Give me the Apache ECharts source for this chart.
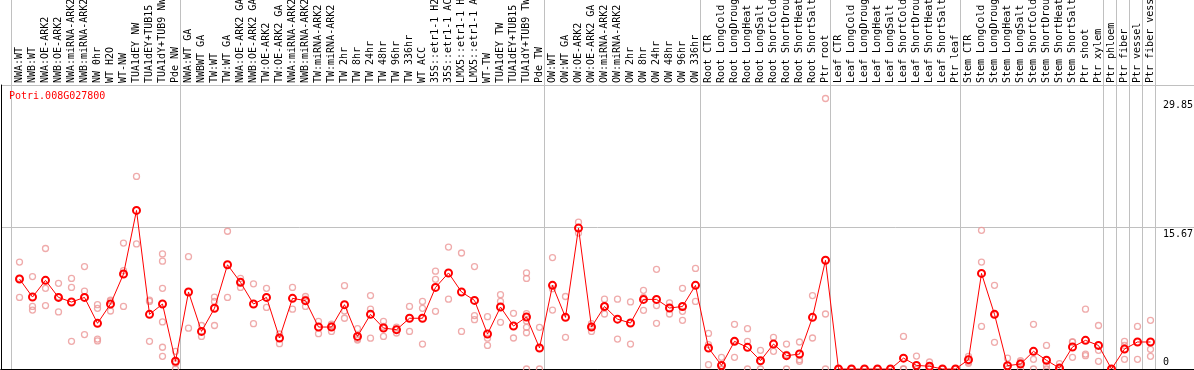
<!DOCTYPE html>
<html><head><meta charset="utf-8">
<script src="https://cdn.jsdelivr.net/npm/echarts@6/dist/echarts.min.js"></script>
<style>html,body{margin:0;padding:0;background:#fff}#c{width:1194px;height:370px}</style>
</head><body><div id="c"></div>
<script>
const geneTitle = 'Potri.008G027800';
const categories = [
 'NWA:WT','NWB:WT','NWA:OE-ARK2','NWB:OE-ARK2','NWA:miRNA-ARK2','NWB:miRNA-ARK2','NW 0hr','WT H2O','WT-NW','TUA1dEY NW','TUA1dEY+TUB15 NW','TUA1dY+TUB9 NW','Pde NW',
 'NWA:WT GA','NWBWT GA','TW:WT','TW:WT GA','NWA:OE-ARK2 GA','NWB:OE-ARK2 GA','TW:OE-ARK2','TW:OE-ARK2 GA','NWA:miRNA-ARK2 GA','NWB:miRNA-ARK2 GA','TW:miRNA-ARK2','TW:miRNA-ARK2 GA',
 'TW 2hr','TW 8hr','TW 24hr','TW 48hr','TW 96hr','TW 336hr','WT ACC','35S::etr1-1 H2O','35S::etr1-1 ACC','LMX5::etr1-1 H2O','LMX5::etr1-1 ACC','WT-TW','TUA1dEY TW','TUA1dEY+TUB15 TW','TUA1dY+TUB9 TW','Pde TW',
 'OW:WT','OW:WT GA','OW:OE-ARK2','OW:OE-ARK2 GA','OW:miRNA-ARK2','OW:miRNA-ARK2 GA','OW 2hr','OW 8hr','OW 24hr','OW 48hr','OW 96hr','OW 336hr',
 'Root CTR','Root LongCold','Root LongDrought','Root LongHeat','Root LongSalt','Root ShortCold','Root ShortDrought','Root ShortHeat','Root ShortSalt','Ptr root',
 'Leaf CTR','Leaf LongCold','Leaf LongDrought','Leaf LongHeat','Leaf LongSalt','Leaf ShortCold','Leaf ShortDrought','Leaf ShortHeat','Leaf ShortSalt','Ptr leaf',
 'Stem CTR','Stem LongCold','Stem LongDrought','Stem LongHeat','Stem LongSalt','Stem ShortCold','Stem ShortDrought','Stem ShortHeat','Stem ShortSalt','Ptr shoot','Ptr xylem',
 'Ptr phloem','Ptr fiber','Ptr vessel','Ptr fiber vessel'
];
const groupStarts = [0, 13, 41, 53, 63, 73, 84, 85, 86, 87];
const means = [
 9.93,7.94,9.78,7.9,7.39,7.9,5.04,7.17,10.48,17.5,6.03,7.17,0.85,
 8.5,4.15,6.7,11.5,9.56,7.17,7.9,3.42,7.8,7.54,4.63,4.63,
 7.1,3.6,6.03,4.52,4.34,5.6,5.6,9.0,10.6,8.5,7.57,3.86,6.84,4.74,5.74,2.32,
 9.23,5.7,15.55,4.63,6.9,5.5,5.07,7.68,7.68,6.73,6.9,9.23,
 2.32,0.4,3.05,2.39,0.92,2.75,1.47,1.65,5.7,12.0,
 0,0,0,0,0,1.2,0.4,0.3,0,0,
 1.03,10.55,6.03,0.37,0.55,1.95,0.96,0.1,2.43,3.16,2.6,
 0,2.2,2.98,2.98
];
const replicates = [
 [11.8,10.0,7.9],[10.2,6.9,6.5],[13.3,8.9,7.0],[9.45,7.95,6.3],[10.0,9.0,3.05],[11.3,8.6,3.8],[7.1,6.7,3.3,3.1],[7.6,7.5,6.4],[13.9,10.85,6.9],[21.25,13.8],[7.6,7.46,3.05],[12.7,11.9,8.9,5.2,2.4,1.4],[1.95,0.6,0],
 [12.4,4.5],[4.8,3.6],[7.94,7.46,4.8],[15.2,7.9],[10.0,9.6,9.0],[9.4,5.0],[8.9,6.8],[3.86,2.8],[9.0,6.6],[8.0,7.7,6.9],[5.26,3.9],[4.96,4.8,4.15],
 [9.2,6.4,5.6],[4.45,3.35,3.2],[8.1,6.6,3.4],[5.26,4.7,3.6],[4.63,4.4,3.97],[6.9,4.15],[7.46,6.7,2.75],[10.8,9.9,6.36],[13.46,7.7],[12.8,4.15],[11.3,5.9,5.44],[5.77,3.4,2.6],[8.2,7.46,5.15],[6.14,3.42],[10.6,10.0,6.1,5.3,4.6,4.0,0],[4.6,0],
 [12.3,8.86,6.5],[8.0,3.5],[16.2,15.0],[5.0,4.7,4.15],[7.7,6.9,6.07],[7.7,3.3],[7.4,2.75],[8.68,7.9,6.47],[11.0,7.0,5.04],[7.3,6.07],[8.9,6.36,5.37],[11.1,7.46],
 [3.93,2.68,0.48],[1.29,0,0],[4.93,3.05,1.29],[4.45,3.05,0],[2.06,0.8,0],[3.5,1.95],[2.75,1.6,0],[2.98,1.03,0.85],[8.1,3.42],[29.85,6.07,0],
 [0,0],[0,0],[0,0],[0,0],[0,0],[3.6,0,0],[1.43,0,0],[0.77,0.1,0],[0,0],[0,0],
 [1.4,0.77,0.63],[15.3,11.8,4.7],[9.23,6.0,2.94],[1.2,0,0],[0.92,0.77,0],[4.93,1.07,0],[2.6,0.4,0],[0.59,0,0],[2.98,2.98,1.29],[6.6,1.65,1.47],[4.8,2.06,0.85],
 [0,0],[3.05,2.6,1.07],[4.7,1.07],[5.37,2.17,1.4]
];
const yTickLabels = [15.67, 29.85];
const yZeroLabel = [0];
const yStep = 15.67;
const yMax = 2 * yStep;

const mono = 'DejaVu Sans Mono';
const repData = [];
replicates.forEach((arr, i) => arr.forEach(v => repData.push([i, v])));

const chart = echarts.init(document.getElementById('c'), null, {renderer: 'canvas'});
const noAxis = {axisLine:{show:false}, axisTick:{show:false}, axisLabel:{show:false}, splitLine:{show:false}};
chart.setOption({
  animation: false,
  backgroundColor: '#fff',
  title: {text: geneTitle, left: 9, top: 91, padding: 0, z: 10,
    textStyle: {color: '#ff0000', fontFamily: mono, fontSize: 10, fontWeight: 'normal'}},
  grid: [
    {left: 13, top: 85, width: 1144, height: 284, outerBoundsMode: 'none', containLabel: false},
    {left: 1, right: 0, top: 85, height: 284, outerBoundsMode: 'none', containLabel: false},
    {left: 11, top: 0, width: 1144, height: 370, outerBoundsMode: 'none', containLabel: false}
  ],
  xAxis: [
    {gridIndex: 0, type: 'category', data: categories, position: 'top', boundaryGap: true,
      axisLine: {show: false}, axisTick: {show: false}, splitLine: {show: false},
      axisLabel: {interval: 0, rotate: 90, margin: 2, hideOverlap: false, fontFamily: mono, fontSize: 10, color: '#000'}},
    {gridIndex: 1, type: 'value', min: 0, max: 1, position: 'top',
      axisLine: {show: true, lineStyle: {color: '#000', width: 1}}, axisTick: {show: false}, axisLabel: {show: false}, splitLine: {show: false}},
    {gridIndex: 1, type: 'value', min: 0, max: 1, position: 'bottom',
      axisLine: {show: true, lineStyle: {color: '#000', width: 1}}, axisTick: {show: false}, axisLabel: {show: false}, splitLine: {show: false}},
    {gridIndex: 2, type: 'category', data: categories, boundaryGap: true,
      axisLine: {show: false}, axisTick: {show: false}, axisLabel: {show: false},
      splitLine: {show: true, interval: (i) => groupStarts.includes(i), lineStyle: {color: '#c0c0c0', width: 1}}}
  ],
  yAxis: [
    {gridIndex: 0, type: 'value', min: 0, max: yMax, position: 'right',
      axisLine: {show: false}, axisTick: {show: false}, splitLine: {show: false},
      axisLabel: {customValues: yTickLabels, verticalAlign: 'top', margin: 6, padding: [2, 0, 0, 0], fontFamily: mono, fontSize: 10, color: '#000'}},
    {gridIndex: 0, type: 'value', min: 0, max: yMax, position: 'right',
      axisLine: {show: false}, axisTick: {show: false}, splitLine: {show: false},
      axisLabel: {customValues: yZeroLabel, verticalAlign: 'bottom', margin: 6, padding: [0, 0, 2, 0], fontFamily: mono, fontSize: 10, color: '#000'}},
    {gridIndex: 1, type: 'value', min: 0, max: yMax, interval: yStep, position: 'left',
      axisLine: {show: true, lineStyle: {color: '#000', width: 1}}, axisTick: {show: false}, axisLabel: {show: false},
      splitLine: {show: true, lineStyle: {color: '#c0c0c0', width: 1}}},
    Object.assign({gridIndex: 2, type: 'value', min: 0, max: 1, position: 'right'}, noAxis,
      {axisLine: {show: true, lineStyle: {color: '#c0c0c0', width: 1}}})
  ],
  series: [
    {type: 'scatter', xAxisIndex: 0, yAxisIndex: 0, data: repData, symbol: 'circle', symbolSize: 6, clip: false, silent: true, z: 2,
      itemStyle: {color: 'rgba(0,0,0,0)', borderColor: '#eb9696', borderWidth: 1.3}},
    {type: 'line', xAxisIndex: 0, yAxisIndex: 0, data: means, symbol: 'circle', symbolSize: 7, showSymbol: true, showAllSymbol: true, clip: false, silent: true, z: 3,
      lineStyle: {color: '#ff0000', width: 1},
      itemStyle: {color: 'rgba(0,0,0,0)', borderColor: '#ff0000', borderWidth: 2}}
  ]
});
</script>
</body></html>
